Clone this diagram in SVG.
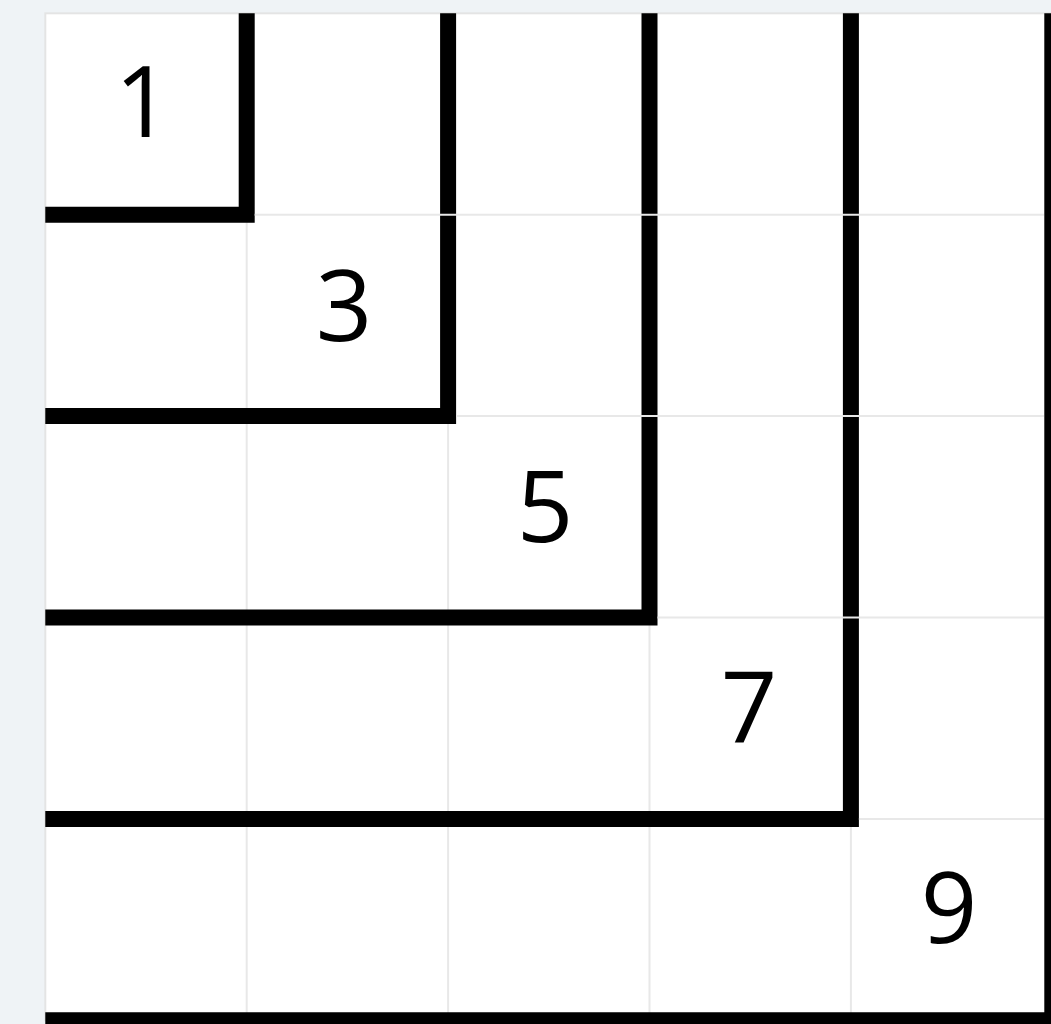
<svg xmlns="http://www.w3.org/2000/svg" width="1051" height="1024" viewBox="0 0 1051 1024">
<style>
.thin{stroke:#e8e8e8;stroke-width:2;fill:none}
.thick{stroke:#000;stroke-width:16;fill:none;stroke-linejoin:miter;stroke-linecap:butt}
.num{font-family:"Open Sans","Noto Sans","DejaVu Sans",sans-serif;font-size:99px;fill:#000;text-anchor:middle}
</style>
<rect width="1051" height="1024" fill="#eff3f6"/>
<rect id="board" x="45.3" y="13.3" width="1007" height="1007" fill="#fff" stroke="#e4e4e4" stroke-width="2"/>
<g id="grid-v">
<line class="thin" x1="246.7" y1="13.3" x2="246.7" y2="1020.3"/>
<line class="thin" x1="448.1" y1="13.3" x2="448.1" y2="1020.3"/>
<line class="thin" x1="649.5" y1="13.3" x2="649.5" y2="1020.3"/>
<line class="thin" x1="850.9" y1="13.3" x2="850.9" y2="1020.3"/>
</g>
<g id="gnomons">
<path class="thick" d="M246.7 13.3V214.7H45.3"/>
<path class="thick" d="M448.1 13.3V416.1H45.3"/>
<path class="thick" d="M649.5 13.3V617.5H45.3"/>
<path class="thick" d="M850.9 13.3V818.9H45.3"/>
<path class="thick" d="M1052.3 13.3V1020.3H45.3"/>
</g>
<g id="grid-h">
<line class="thin" x1="254.7" y1="214.7" x2="1044" y2="214.7"/>
<line class="thin" x1="456.1" y1="416.1" x2="1044" y2="416.1"/>
<line class="thin" x1="657.5" y1="617.5" x2="1044" y2="617.5"/>
<line class="thin" x1="858.9" y1="818.9" x2="1044" y2="818.9"/>
</g>
<g id="labels">
<text class="num" x="143" y="137.3">1</text>
<text class="num" x="344" y="340.7">3</text>
<text class="num" x="545" y="541.7">5</text>
<text class="num" x="749" y="741.7">7</text>
<text class="num" x="949" y="943.3">9</text>
</g>
</svg>
